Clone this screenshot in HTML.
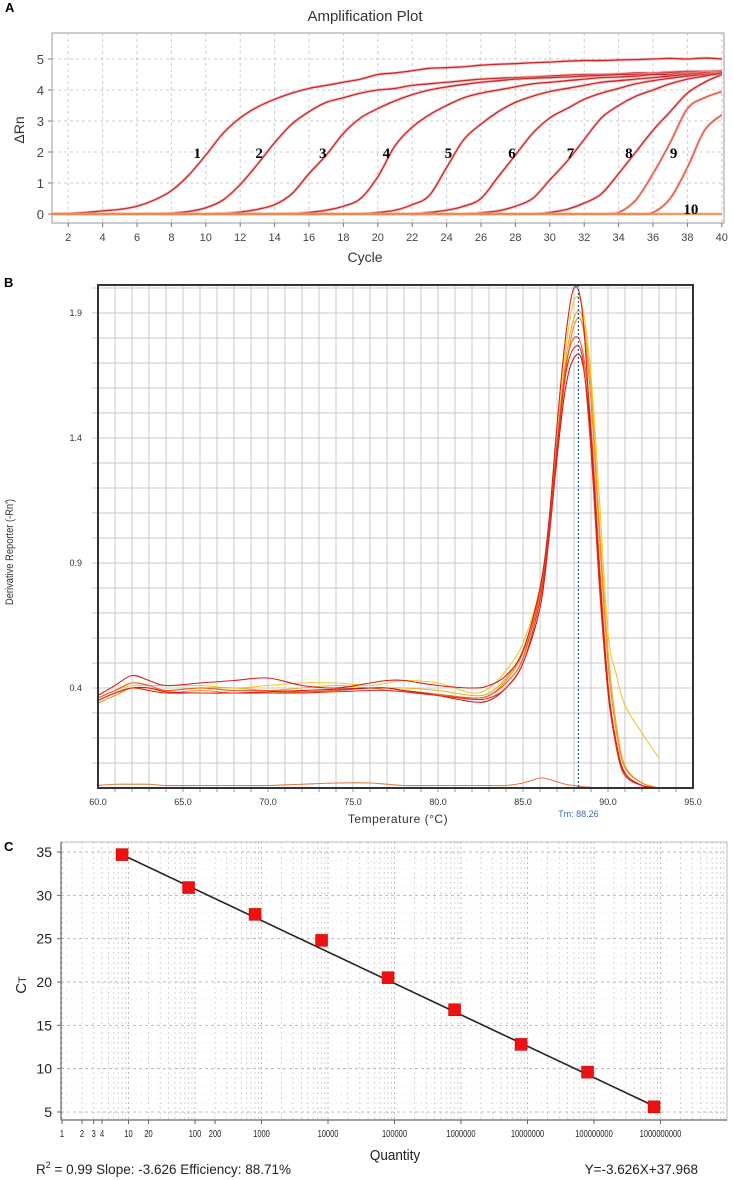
<!DOCTYPE html>
<html><head><meta charset="utf-8">
<style>
body{margin:0;background:#fff;}
svg{display:block;font-family:"Liberation Sans",sans-serif;}
</style></head>
<body>
<svg id="fig" width="733" height="1180" viewBox="0 0 733 1180">
<g id="panelA"></g>
<g id="panelB"></g>
<g id="panelC"></g>
</svg>
<script>
// ===== Panel A data =====
const cycles = [];
for (let i = 1; i <= 40; i++) cycles.push(i);
const ampCurve1 = [0,0.02,0.05,0.1,0.15,0.25,0.45,0.75,1.25,1.9,2.6,3.1,3.45,3.7,3.9,4.05,4.15,4.25,4.35,4.5,4.55,4.62,4.7,4.72,4.75,4.8,4.83,4.85,4.88,4.9,4.93,4.95,4.95,4.97,4.98,5.0,5.02,5.0,5.03,5.0];
const ampCurve2 = [0,0,0,0,0,0,0.01,0.03,0.08,0.2,0.45,0.95,1.6,2.3,2.9,3.3,3.6,3.75,3.9,4.0,4.05,4.15,4.2,4.25,4.3,4.35,4.38,4.4,4.42,4.45,4.48,4.5,4.5,4.52,4.55,4.55,4.58,4.6,4.6,4.62];
const ampCurve3 = [0,0,0,0,0,0,0,0,0,0,0.02,0.06,0.15,0.3,0.65,1.3,1.9,2.6,3.1,3.4,3.65,3.85,4.0,4.1,4.18,4.25,4.3,4.35,4.38,4.4,4.42,4.45,4.47,4.5,4.5,4.52,4.55,4.55,4.57,4.6];
const ampCurve4 = [0,0,0,0,0,0,0,0,0,0,0,0,0,0,0.02,0.05,0.12,0.25,0.5,1.2,2.2,2.8,3.2,3.5,3.75,3.9,4.0,4.1,4.2,4.25,4.3,4.35,4.4,4.42,4.45,4.5,4.5,4.52,4.55,4.55];
const ampCurve5 = [0,0,0,0,0,0,0,0,0,0,0,0,0,0,0,0,0,0,0.01,0.05,0.12,0.3,0.6,1.5,2.4,2.9,3.3,3.6,3.8,3.95,4.05,4.15,4.25,4.3,4.35,4.4,4.45,4.5,4.55,4.55];
const ampCurve6 = [0,0,0,0,0,0,0,0,0,0,0,0,0,0,0,0,0,0,0,0,0,0.01,0.05,0.12,0.25,0.5,1.2,1.9,2.6,3.1,3.4,3.7,3.9,4.05,4.2,4.3,4.38,4.45,4.5,4.55];
const ampCurve7 = [0,0,0,0,0,0,0,0,0,0,0,0,0,0,0,0,0,0,0,0,0,0,0,0,0,0.04,0.1,0.25,0.5,1.1,1.7,2.4,3.1,3.5,3.8,4.0,4.2,4.35,4.45,4.55];
const ampCurve8 = [0,0,0,0,0,0,0,0,0,0,0,0,0,0,0,0,0,0,0,0,0,0,0,0,0,0,0,0,0,0.05,0.15,0.35,0.65,1.3,2.0,2.7,3.3,3.9,4.25,4.5];
const ampCurve9 = [0,0,0,0,0,0,0,0,0,0,0,0,0,0,0,0,0,0,0,0,0,0,0,0,0,0,0,0,0,0,0,0,0,0.05,0.45,1.3,2.3,3.4,3.75,3.95];
const ampCurve9b = [0,0,0,0,0,0,0,0,0,0,0,0,0,0,0,0,0,0,0,0,0,0,0,0,0,0,0,0,0,0,0,0,0,0,0,0.05,0.5,1.5,2.7,3.2];
const ampCurve10 = [0,0,0,0,0,0,0,0,0,0,0,0,0,0,0,0,0,0,0,0,0,0,0,0,0,0,0,0,0,0,0,0,0,0,0,0,0,0,0,0];
const ampSeries = [ampCurve1,ampCurve2,ampCurve3,ampCurve4,ampCurve5,ampCurve6,ampCurve7,ampCurve8,ampCurve9,ampCurve9b,ampCurve10];
const ampLabelText = ["1","2","3","4","5","6","7","8","9","10"];
const ampLabelCycle = [9.5,13.1,16.8,20.5,24.1,27.8,31.2,34.6,37.2,38.2];
const ampLabelValue = [2,2,2,2,2,2,2,2,2,0.2];
const ampXTicks = [2,4,6,8,10,12,14,16,18,20,22,24,26,28,30,32,34,36,38,40];
const ampYTicks = [0,1,2,3,4,5];

// ===== Panel B data =====
const meltTemps = [60,61,62,63,64,66,68,70,72,74,76,77,78,80,82,83,84,85,86,86.5,87,87.5,88,88.5,89,89.5,90,90.5,91,92,93];
const meltR1 = [0.37,0.41,0.45,0.43,0.41,0.42,0.43,0.44,0.41,0.40,0.42,0.43,0.43,0.41,0.40,0.41,0.45,0.55,0.80,1.05,1.45,1.80,2.00,1.90,1.40,0.85,0.40,0.17,0.06,0.01,0];
const meltR2 = [0.35,0.38,0.40,0.39,0.38,0.38,0.38,0.38,0.38,0.385,0.39,0.39,0.385,0.37,0.355,0.36,0.40,0.50,0.75,1.0,1.35,1.65,1.76,1.72,1.35,0.8,0.38,0.16,0.05,0.01,0];
const meltR3 = [0.36,0.39,0.42,0.41,0.39,0.40,0.39,0.39,0.385,0.39,0.40,0.40,0.39,0.375,0.36,0.37,0.42,0.52,0.78,1.02,1.38,1.68,1.80,1.75,1.45,0.9,0.42,0.18,0.06,0.01,0];
const meltR4 = [0.34,0.37,0.40,0.39,0.38,0.39,0.38,0.38,0.385,0.39,0.40,0.39,0.385,0.37,0.36,0.37,0.43,0.54,0.76,1.0,1.35,1.66,1.85,1.85,1.55,1.0,0.5,0.22,0.08,0.02,0];
const meltY1 = [0.36,0.39,0.41,0.41,0.41,0.41,0.40,0.41,0.42,0.42,0.41,0.42,0.43,0.42,0.38,0.40,0.47,0.58,0.80,1.05,1.40,1.75,1.95,1.92,1.65,1.15,0.62,0.45,0.33,0.22,0.12];
const meltY2 = [0.35,0.38,0.40,0.40,0.39,0.40,0.40,0.39,0.40,0.41,0.40,0.40,0.40,0.39,0.37,0.38,0.44,0.55,0.78,1.0,1.36,1.70,1.88,1.88,1.6,1.05,0.55,0.25,0.09,0.02,0];
const meltR5 = [0.35,0.38,0.40,0.40,0.385,0.38,0.38,0.385,0.39,0.395,0.40,0.40,0.39,0.37,0.345,0.35,0.40,0.50,0.72,0.98,1.32,1.60,1.72,1.70,1.40,0.85,0.40,0.16,0.05,0.01,0];
const meltNeg = [0.01,0.015,0.015,0.015,0.01,0.01,0.01,0.01,0.015,0.02,0.02,0.015,0.01,0.01,0.01,0.01,0.01,0.02,0.04,0.035,0.025,0.015,0.01,0.005,0.003,0,0,0,0,0,0];
const meltSeries = [meltNeg,meltY1,meltY2,meltR4,meltR3,meltR5,meltR2,meltR1];
const meltColors = ["#e07a45","#f0c830","#e8b020","#f08a25","#f05a1e","#c81818","#e03020","#d41f1f"];
const meltXTicks = [60,65,70,75,80,85,90,95];
const meltYTicks = [0.4,0.9,1.4,1.9];
const meltTm = 88.26;

// ===== Panel C data =====
const stdQuantity = [8,80,800,8000,80000,800000,8000000,80000000,800000000];
const stdCt = [34.7,30.9,27.8,24.8,20.5,16.8,12.8,9.6,5.6];
const stdSlope = -3.626;
const stdIntercept = 37.968;
const stdYTicks = [5,10,15,20,25,30,35];
const stdXTickVals = [1,2,3,4,10,20,100,200,1000,10000,100000,1000000,10000000,100000000,1000000000];
const stdXTickLabels = ["1","2","3","4","10","20","100","200","1000","10000","100000","1000000","10000000","100000000","1000000000"];

const NS = "http://www.w3.org/2000/svg";
function mk(parent, tag, attrs, text) {
  const e = document.createElementNS(NS, tag);
  for (const k in attrs) e.setAttribute(k, attrs[k]);
  if (text !== undefined) e.textContent = text;
  parent.appendChild(e);
  return e;
}
function smoothPath(pts) {
  let d = "M" + pts[0][0].toFixed(2) + "," + pts[0][1].toFixed(2);
  for (let i = 0; i < pts.length - 1; i++) {
    const p0 = pts[Math.max(0, i - 1)], p1 = pts[i], p2 = pts[i + 1], p3 = pts[Math.min(pts.length - 1, i + 2)];
    const c1x = p1[0] + (p2[0] - p0[0]) / 6, c1y = p1[1] + (p2[1] - p0[1]) / 6;
    const c2x = p2[0] - (p3[0] - p1[0]) / 6, c2y = p2[1] - (p3[1] - p1[1]) / 6;
    d += " C" + c1x.toFixed(2) + "," + c1y.toFixed(2) + " " + c2x.toFixed(2) + "," + c2y.toFixed(2) + " " + p2[0].toFixed(2) + "," + p2[1].toFixed(2);
  }
  return d;
}

// ===== Panel A =====
(function () {
  const g = document.getElementById("panelA");
  const xA = c => 51 + (c - 1) * 17.2;
  const yA = v => 214 - 31 * v;
  let t;
  t = mk(g, "text", {x: 5, y: 12, "font-size": 13, "font-weight": "bold"}, "A");
   
  t = mk(g, "text", {x: 365, y: 21, "font-size": 15, "text-anchor": "middle", fill: "#333"}, "Amplification Plot");
   
  const frame = mk(g, "rect", {x: 52, y: 33, width: 672, height: 190, fill: "#fff", stroke: "#999", "stroke-width": 1});
   
  ampXTicks.forEach(c => {
    const l = mk(g, "line", {x1: xA(c), x2: xA(c), y1: 33, y2: 223, stroke: "#ccc", "stroke-dasharray": "3,3"});
     
    mk(g, "line", {x1: xA(c), x2: xA(c), y1: 223, y2: 227, stroke: "#777"});
    const tl = mk(g, "text", {x: xA(c), y: 241, "font-size": 11, "text-anchor": "middle", fill: "#444"}, String(c));
     
  });
  ampYTicks.forEach(v => {
    const l = mk(g, "line", {x1: 52, x2: 724, y1: yA(v), y2: yA(v), stroke: "#ccc", "stroke-dasharray": "3,3"});
     
    mk(g, "line", {x1: 48, x2: 52, y1: yA(v), y2: yA(v), stroke: "#777"});
    const tl = mk(g, "text", {x: 44, y: yA(v) + 5, "font-size": 13, "text-anchor": "end", fill: "#444"}, String(v));
     
  });
  t = mk(g, "text", {x: 365, y: 262, "font-size": 14, "text-anchor": "middle", fill: "#333"}, "Cycle");
   
  t = mk(g, "text", {x: 0, y: 0, "font-size": 14, "text-anchor": "middle", fill: "#333", transform: "translate(24,130) rotate(-90)"}, "ΔRn");
   
  ampSeries.forEach((s, i) => {
    const pts = s.map((v, k) => [xA(cycles[k]), yA(v)]);
    const d = smoothPath(pts);
    const last = i === ampSeries.length - 1;
    const halo = mk(g, "path", {d: d, fill: "none", stroke: last ? "#f4b080" : "#f2a0a0", "stroke-width": 3, opacity: 0.6});
     
    const p = mk(g, "path", {d: d, fill: "none", stroke: last ? "#e08030" : (i >= 8 ? "#dd5a3a" : "#c8282a"), "stroke-width": 1.3});
     
  });
  ampLabelText.forEach((s, i) => {
    const tl = mk(g, "text", {x: xA(ampLabelCycle[i]), y: yA(ampLabelValue[i]) + 6, "font-size": 15, "font-weight": "bold", "font-family": "Liberation Serif, serif", "text-anchor": "middle"}, s);
     
  });
})();

// ===== Panel B =====
(function () {
  const g = document.getElementById("panelB");
  const xB = t => 98 + (t - 60) * 17;
  const yB = v => 788 - 250 * v;
  let t;
  t = mk(g, "text", {x: 4, y: 287, "font-size": 13, "font-weight": "bold"}, "B");
   
  mk(g, "rect", {x: 98, y: 285, width: 595, height: 503, fill: "#fff"});
  for (let tt = 61; tt < 95; tt++) {
    const l = mk(g, "line", {x1: xB(tt), x2: xB(tt), y1: 285, y2: 788, stroke: "#c8c8c8", "stroke-width": 1});
     
    mk(g, "line", {x1: xB(tt), x2: xB(tt), y1: 788, y2: 792, stroke: "#999"});
  }
  for (let k = 1; k <= 20; k++) {
    const v = k / 10;
    const l = mk(g, "line", {x1: 92, x2: 693, y1: yB(v), y2: yB(v), stroke: "#c8c8c8", "stroke-width": 1});
     
  }
  meltYTicks.forEach(v => {
    const tl = mk(g, "text", {x: 82, y: yB(v) + 3, "font-size": 9, "text-anchor": "end", fill: "#333"}, v.toFixed(1));
     
  });
  meltXTicks.forEach(v => {
    const tl = mk(g, "text", {x: xB(v), y: 805, "font-size": 9, "text-anchor": "middle", fill: "#333"}, v.toFixed(1));
     
  });
  meltSeries.forEach((s, i) => {
    const pts = s.map((v, k) => [xB(meltTemps[k]), yB(Math.max(0, v))]);
    const p = mk(g, "path", {d: smoothPath(pts), fill: "none", stroke: meltColors[i], "stroke-width": 1.1});
     
  });
  const tm = mk(g, "line", {x1: xB(meltTm), x2: xB(meltTm), y1: 285, y2: 788, stroke: "#2050b0", "stroke-width": 1.2, "stroke-dasharray": "2,2"});
   
  const fr = mk(g, "path", {d: "M98,285 H693 V788 H98 Z", fill: "none", stroke: "#333", "stroke-width": 2});
   
  t = mk(g, "text", {x: xB(meltTm), y: 817, "font-size": 9, "text-anchor": "middle", fill: "#3a6bb0"}, "Tm: " + meltTm.toFixed(2));
   
  t = mk(g, "text", {x: 398, y: 823, "font-size": 12, "text-anchor": "middle", fill: "#333", "letter-spacing": "0.5"}, "Temperature (°C)");
   
  t = mk(g, "text", {x: 0, y: 0, "font-size": 11, "text-anchor": "middle", fill: "#333", transform: "translate(13,552) rotate(-90) scale(0.85,1)"}, "Derivative Reporter (-Rn')");
   
})();

// ===== Panel C =====
(function () {
  const g = document.getElementById("panelC");
  const xC = q => 62 + Math.log10(q) * 66.5;
  const yC = c => 852 + (35 - c) * 8.667;
  let t;
  t = mk(g, "text", {x: 4, y: 851, "font-size": 13, "font-weight": "bold"}, "C");
   
  for (let dec = 0; dec < 10; dec++) {
    for (let m = 1; m <= 9; m++) {
      const x = xC(m * Math.pow(10, dec));
      const l = mk(g, "line", {x1: x, x2: x, y1: 842, y2: 1120, stroke: m === 1 ? "#bbb" : "#d4d4d4", "stroke-width": 1, "stroke-dasharray": "2,3"});
       
    }
  }
  for (let c = 5; c <= 36; c++) {
    const major = c % 5 === 0;
    const l = mk(g, "line", {x1: 61, x2: 727, y1: yC(c), y2: yC(c), stroke: major ? "#bbb" : "#e4e4e4", "stroke-width": 1, "stroke-dasharray": major ? "3,3" : "1,4"});
     
  }
  mk(g, "rect", {x: 61, y: 842, width: 666, height: 278, fill: "none", stroke: "#bbb"});
  mk(g, "line", {x1: 61, x2: 61, y1: 842, y2: 1120, stroke: "#666", "stroke-width": 1.2});
  mk(g, "line", {x1: 61, x2: 727, y1: 1120, y2: 1120, stroke: "#666", "stroke-width": 1.2});
  stdYTicks.forEach(c => {
    mk(g, "line", {x1: 57, x2: 61, y1: yC(c), y2: yC(c), stroke: "#666"});
    const tl = mk(g, "text", {x: 52, y: yC(c) + 5, "font-size": 14, "text-anchor": "end", fill: "#222"}, String(c));
     
  });
  stdXTickVals.forEach((q, i) => {
    const x = xC(q);
    mk(g, "line", {x1: x, x2: x, y1: 1120, y2: 1124, stroke: "#666"});
    const tl = mk(g, "text", {x: 0, y: 0, "font-size": 10, "text-anchor": "middle", fill: "#222", transform: "translate(" + x + ",1137) scale(0.75,1)"}, stdXTickLabels[i]);
     
  });
  const q0 = stdQuantity[0], q1 = stdQuantity[stdQuantity.length - 1];
  const fit = mk(g, "line", {x1: xC(q0), y1: yC(stdIntercept + stdSlope * Math.log10(q0)), x2: xC(q1), y2: yC(stdIntercept + stdSlope * Math.log10(q1)), stroke: "#222", "stroke-width": 1.6});
   
  stdQuantity.forEach((q, i) => {
    const r = mk(g, "rect", {x: xC(q) - 6, y: yC(stdCt[i]) - 6, width: 12, height: 12, fill: "#ee1111", stroke: "#c00", "stroke-width": 0.5});
     
  });
  t = mk(g, "text", {x: 395, y: 1160, "font-size": 15, "text-anchor": "middle", fill: "#222", transform: "translate(395,0) scale(0.9,1) translate(-395,0)"}, "Quantity");
   
  t = mk(g, "text", {x: 0, y: 0, "font-size": 15, "text-anchor": "middle", fill: "#222", transform: "translate(26,985) rotate(-90)"}, "C");
  const sub = mk(t, "tspan", {"font-size": 11, dy: 0}, "T");
   
  t = mk(g, "text", {x: 36, y: 1174, "font-size": 13.5, fill: "#222"});
  mk(t, "tspan", {}, "R");
  mk(t, "tspan", {"font-size": 9, dy: -6}, "2");
  mk(t, "tspan", {dy: 6}, " = 0.99  Slope: -3.626 Efficiency: 88.71%");
   
  t = mk(g, "text", {x: 698, y: 1174, "font-size": 13.5, "text-anchor": "end", fill: "#222"}, "Y=-3.626X+37.968");
   
})();
</script>
</body></html>
